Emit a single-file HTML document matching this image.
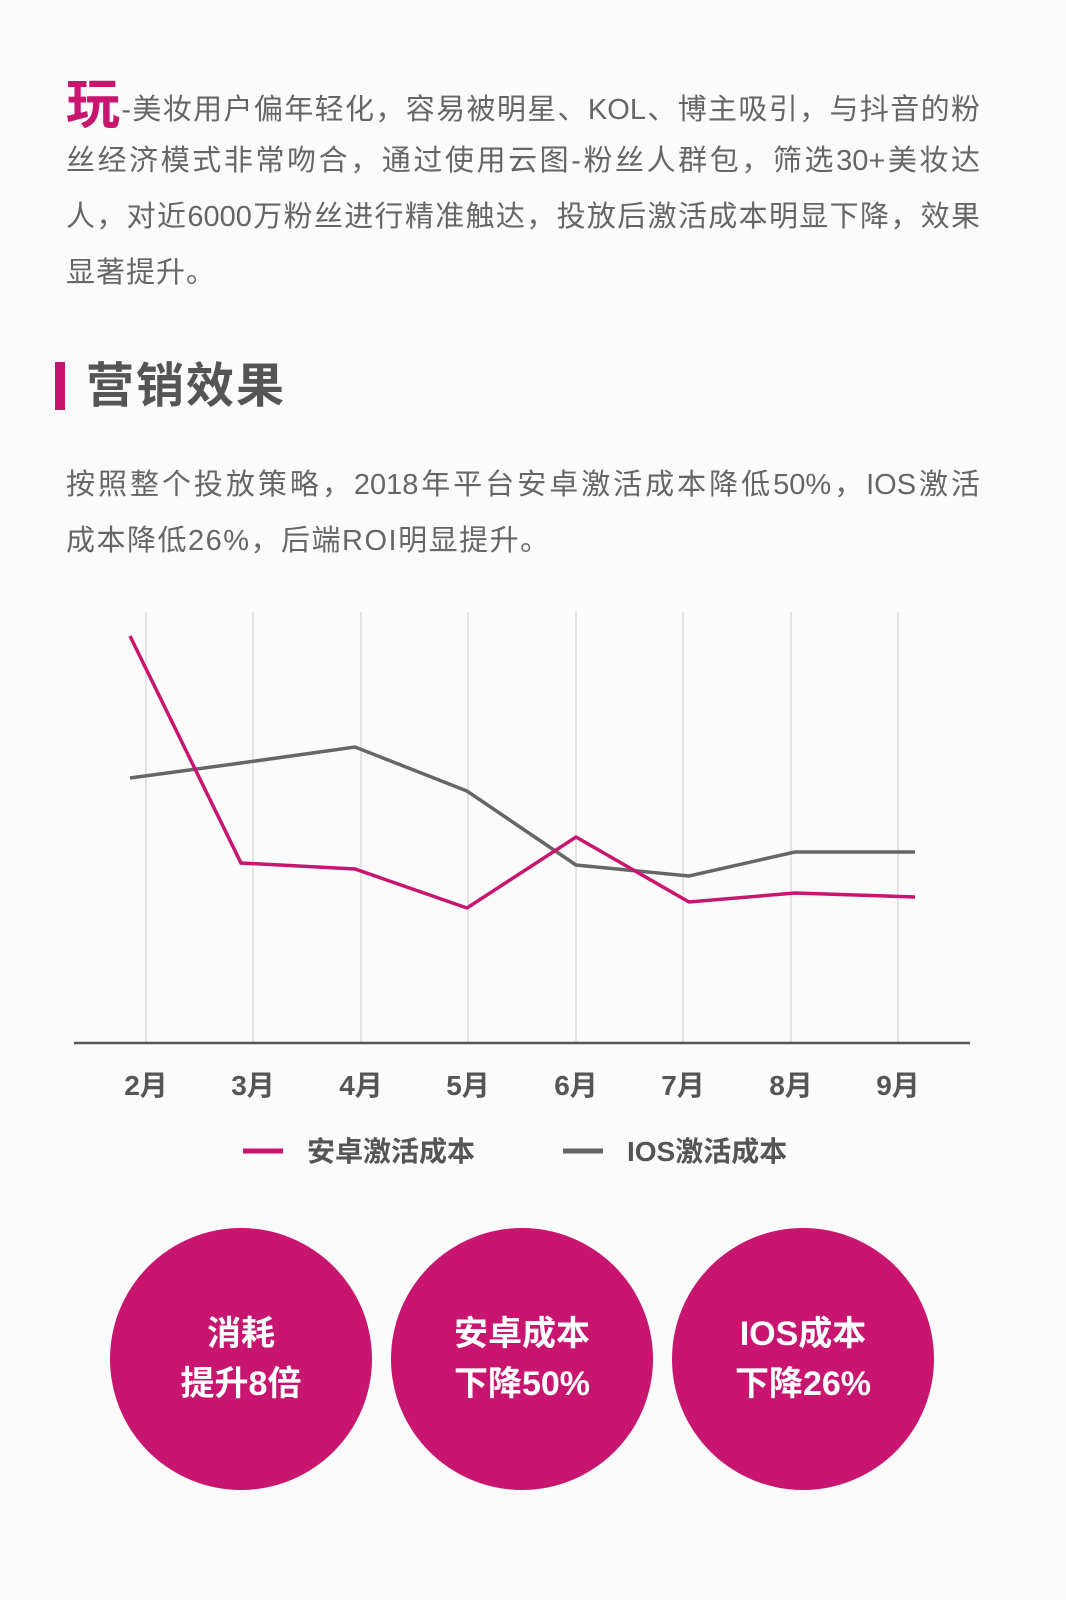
<!DOCTYPE html>
<html><head><meta charset="utf-8"><style>
body{margin:0;width:1066px;height:1600px;background:#fbfbfc;font-family:"Liberation Sans","Noto Sans CJK SC",sans-serif;position:relative;overflow:hidden;color:#666}
.l{position:absolute;left:66px;width:914px;font-size:29px;line-height:40px;text-align:justify;text-align-last:justify;white-space:nowrap}
.c{position:absolute;width:262px;height:262px;border-radius:50%;background:#c8156f;color:#fff;font-weight:bold;font-size:34px;text-align:center;line-height:50px;box-sizing:border-box;padding-top:81px}
</style></head><body>
<div class="l" style="top:78px;height:54px;line-height:54px"><span style="color:#c8156f;font-size:54px;font-weight:bold;vertical-align:-4px">玩</span>-美妆用户偏年轻化，容易被明星、KOL、博主吸引，与抖音的粉</div>
<div class="l" style="top:141px">丝经济模式非常吻合，通过使用云图-粉丝人群包，筛选30+美妆达</div>
<div class="l" style="top:197px">人，对近6000万粉丝进行精准触达，投放后激活成本明显下降，效果</div>
<div class="l" style="top:253px;text-align-last:left;letter-spacing:1px">显著提升。</div>
<div style="position:absolute;left:55px;top:362px;width:10px;height:48px;background:#c8156f"></div>
<div style="position:absolute;left:86px;top:358px;font-size:48px;font-weight:bold;color:#555;line-height:58px;letter-spacing:2px">营销效果</div>
<div class="l" style="top:465px">按照整个投放策略，2018年平台安卓激活成本降低50%，IOS激活</div>
<div class="l" style="top:521px;text-align-last:left;letter-spacing:1.5px">成本降低26%，后端ROI明显提升。</div>
<svg style="position:absolute;left:0;top:0" width="1066" height="1600">
<g stroke="#ddd" stroke-width="1.5">
<line x1="146" y1="612" x2="146" y2="1043"/><line x1="253" y1="612" x2="253" y2="1043"/><line x1="361" y1="612" x2="361" y2="1043"/><line x1="468" y1="612" x2="468" y2="1043"/><line x1="576" y1="612" x2="576" y2="1043"/><line x1="683" y1="612" x2="683" y2="1043"/><line x1="791" y1="612" x2="791" y2="1043"/><line x1="898" y1="612" x2="898" y2="1043"/></g>
<line x1="74" y1="1043" x2="970" y2="1043" stroke="#555" stroke-width="2.5"/>
<polyline fill="none" stroke="#666" stroke-width="3.5" points="130,778 241,763 355,747 467,791 576,865 689,876 795,852 915,852"/>
<polyline fill="none" stroke="#c8156f" stroke-width="3.5" points="130,636 241,863 355,869 467,908 576,837 689,902 795,893 915,897"/>
<g font-size="28" font-weight="bold" fill="#555" text-anchor="middle">
<text x="146" y="1095">2月</text><text x="253" y="1095">3月</text><text x="361" y="1095">4月</text><text x="468" y="1095">5月</text><text x="576" y="1095">6月</text><text x="683" y="1095">7月</text><text x="791" y="1095">8月</text><text x="898" y="1095">9月</text></g>
<line x1="243" y1="1151" x2="283" y2="1151" stroke="#c8156f" stroke-width="5"/>
<line x1="563" y1="1151" x2="603" y2="1151" stroke="#666" stroke-width="5"/>
<g font-size="28" font-weight="bold" fill="#555"><text x="307" y="1161">安卓激活成本</text><text x="627" y="1161">IOS激活成本</text></g>
</svg>
<div class="c" style="left:110px;top:1228px">消耗<br>提升8倍</div>
<div class="c" style="left:391px;top:1228px">安卓成本<br>下降50%</div>
<div class="c" style="left:672px;top:1228px">IOS成本<br>下降26%</div>
</body></html>
